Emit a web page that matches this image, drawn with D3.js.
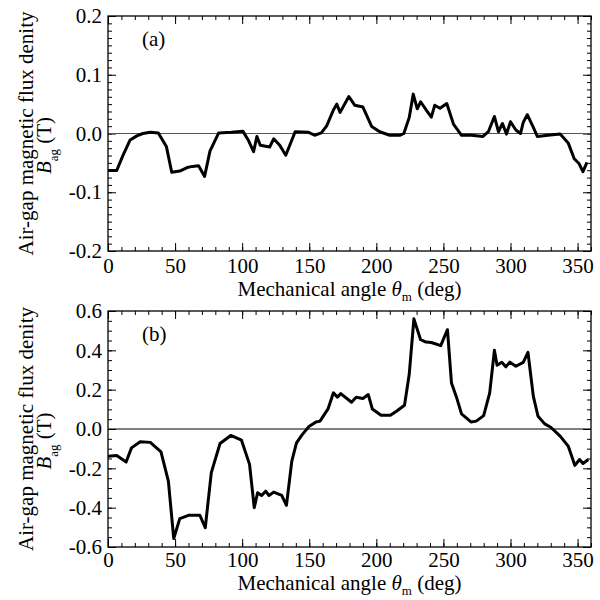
<!DOCTYPE html>
<html>
<head>
<meta charset="utf-8">
<script src="https://cdn.jsdelivr.net/npm/d3@7/dist/d3.min.js"></script>
<style>
  body { margin: 0; background: #fff; }
  text { font-family: "Liberation Serif", "DejaVu Serif", serif; fill: #000; }
</style>
</head>
<body>
<svg id="chart" width="600" height="600"></svg>
<script>
// panel (a) data: angle (deg) and air-gap flux density (T)
var angleA = [0, 6.5, 11, 16.5, 21.5, 26, 31.5, 37.5, 43.5, 47.5, 53.5, 59, 63, 67.5, 72, 76, 82.5, 92, 100.5,
  104.5, 108.5, 111, 113.5, 120.5, 123.5, 128, 132.5, 139.5, 149.5, 154, 159, 163, 168, 170.5, 173, 179.5,
  184, 190, 196.5, 202.5, 210, 217.5, 220.5, 224.5, 227.5, 230.5, 233, 237.5, 241, 243.5, 247.5, 252.5,
  257.5, 263.5, 271, 279.5, 283.5, 288, 291, 294, 297, 300, 304, 307.5, 309.5, 312.5, 316.5, 320, 328,
  337, 343, 347.5, 351, 354, 357];
var fluxA = [-0.063, -0.063, -0.038, -0.011, -0.004, 0.0, 0.002, 0.001, -0.022, -0.066, -0.064, -0.058, -0.056, -0.055, -0.073, -0.030, 0.001, 0.002, 0.004,
  -0.011, -0.031, -0.005, -0.020, -0.023, -0.009, -0.020, -0.037, 0.003, 0.002, -0.003, 0.001, 0.013, 0.040, 0.050, 0.036, 0.063,
  0.048, 0.045, 0.012, 0.003, -0.003, -0.003, 0.0, 0.027, 0.067, 0.042, 0.054, 0.039, 0.028, 0.048, 0.043, 0.051,
  0.016, -0.003, -0.003, -0.005, 0.003, 0.029, 0.003, 0.017, -0.001, 0.020, 0.006, 0.0, 0.019, 0.032, 0.013, -0.005, -0.003,
  -0.001, -0.016, -0.043, -0.051, -0.065, -0.049];

// panel (b) data
var angleB = [0, 6.5, 13.5, 17.5, 24, 31.5, 39.5, 45, 49, 53.5, 60, 68.5, 72.5, 77, 83.5, 91.5, 99.5, 105.5,
  109, 111.5, 114.5, 117.5, 120, 123.5, 129.5, 133, 137, 140.5, 144.5, 149.5, 155, 158, 164, 168, 171, 173.5,
  181.5, 185, 190, 194, 197, 203.5, 210.5, 215, 221, 224.5, 228, 233, 237, 241, 248, 253, 256, 259.5, 263.5,
  270.5, 274.5, 280, 284.5, 288, 290, 293.5, 296.5, 299.5, 304, 309.5, 313, 317, 320.5, 325.5, 330, 337, 343,
  348, 351.5, 354, 358];
var fluxB = [-0.138, -0.135, -0.168, -0.096, -0.065, -0.068, -0.116, -0.265, -0.557, -0.456, -0.439, -0.439, -0.502, -0.222, -0.074, -0.033, -0.057, -0.180,
  -0.400, -0.324, -0.338, -0.316, -0.338, -0.321, -0.338, -0.388, -0.163, -0.070, -0.031, 0.011, 0.036, 0.040, 0.102, 0.184, 0.162, 0.180,
  0.136, 0.161, 0.155, 0.175, 0.102, 0.070, 0.070, 0.090, 0.121, 0.277, 0.560, 0.454, 0.442, 0.440, 0.424, 0.505, 0.234, 0.167, 0.077,
  0.036, 0.040, 0.068, 0.184, 0.400, 0.324, 0.339, 0.316, 0.340, 0.319, 0.339, 0.390, 0.167, 0.065, 0.026, 0.009, -0.036, -0.087,
  -0.185, -0.155, -0.175, -0.155];

var xTicks = [0, 50, 100, 150, 200, 250, 300, 350];
var yTicksA = [-0.2, -0.1, 0.0, 0.1, 0.2];
var yTicksB = [-0.6, -0.4, -0.2, 0.0, 0.2, 0.4, 0.6];

var svg = d3.select("#chart");
var left = 108, right = 591;
var fs = "21px";

// plain hyphen minus like the original, not the unicode minus d3 uses
function fmt(v) { return d3.format(".1f")(v).replace("\u2212", "-"); }

function drawPanel(opt) {
  var x = d3.scaleLinear().domain([0, 360]).range([left, right]);
  var y = d3.scaleLinear().domain(opt.ydom).range([opt.bottom, opt.top]);
  var g = svg.append("g");

  // minor ticks
  var xMinor = d3.range(0, 361, 10);
  var yMinor = d3.range(opt.ydom[0], opt.ydom[1] + 1e-9, opt.yminor);

  g.append("g").attr("transform", "translate(0," + opt.bottom + ")")
    .call(d3.axisBottom(x).tickValues(xMinor).tickSize(-4).tickFormat(""));
  g.append("g").attr("transform", "translate(0," + opt.top + ")")
    .call(d3.axisTop(x).tickValues(xMinor).tickSize(-4).tickFormat(""));
  g.append("g").attr("transform", "translate(" + left + ",0)")
    .call(d3.axisLeft(y).tickValues(yMinor).tickSize(-4).tickFormat(""));
  g.append("g").attr("transform", "translate(" + right + ",0)")
    .call(d3.axisRight(y).tickValues(yMinor).tickSize(-4).tickFormat(""));

  // major ticks
  var xb = g.append("g").attr("transform", "translate(0," + opt.bottom + ")")
    .call(d3.axisBottom(x).tickValues(xTicks).tickSize(-8).tickPadding(opt.tickPad).tickFormat(d3.format("d")));
  g.append("g").attr("transform", "translate(0," + opt.top + ")")
    .call(d3.axisTop(x).tickValues(xTicks).tickSize(-8).tickFormat(""));
  g.append("g").attr("transform", "translate(" + left + ",0)")
    .call(d3.axisLeft(y).tickValues(opt.yticks).tickSize(-8).tickPadding(6).tickFormat(fmt));
  g.append("g").attr("transform", "translate(" + right + ",0)")
    .call(d3.axisRight(y).tickValues(opt.yticks).tickSize(-8).tickFormat(""));

  g.selectAll(".domain").remove();
  g.selectAll(".tick line").attr("stroke", "#000").attr("stroke-width", 1);
  g.selectAll(".tick text").style("font-family", "Liberation Serif").style("font-size", fs).attr("fill", "#000");
  xb.selectAll(".tick text").attr("dy", 0);

  // zero line
  g.append("line").attr("x1", left).attr("x2", right)
    .attr("y1", y(0)).attr("y2", y(0))
    .attr("stroke", opt.zeroColor).attr("stroke-width", 1.2);

  // curve
  var pts = opt.angle.map(function(a, i) { return [a, opt.flux[i]]; });
  g.append("path").datum(pts)
    .attr("fill", "none").attr("stroke", "#000").attr("stroke-width", 3)
    .attr("stroke-linejoin", "round")
    .attr("d", d3.line().x(function(d) { return x(d[0]); }).y(function(d) { return y(d[1]); }));

  // frame
  g.append("rect").attr("x", left).attr("y", opt.top)
    .attr("width", right - left).attr("height", opt.bottom - opt.top)
    .attr("fill", "none").attr("stroke", "#000").attr("stroke-width", 1.3);

  // panel tag
  g.append("text").attr("x", 142).attr("y", opt.top + 30)
    .style("font-size", fs).text(opt.tag);

  // x title
  var xt = g.append("text").attr("x", (left + right) / 2).attr("y", opt.bottom + opt.titlePad)
    .attr("text-anchor", "middle").style("font-size", fs);
  xt.append("tspan").text("Mechanical angle ");
  xt.append("tspan").style("font-style", "italic").text("\u03b8");
  xt.append("tspan").attr("dy", 5).style("font-size", "13px").text("m");
  xt.append("tspan").attr("dy", -5).text(" (deg)");

  // y title
  var cy = (opt.top + opt.bottom) / 2;
  g.append("text").attr("transform", "translate(33," + cy + ") rotate(-90)")
    .attr("text-anchor", "middle").style("font-size", fs)
    .text("Air-gap magnetic flux denity");
  var yt = g.append("text").attr("transform", "translate(51," + (cy + 12) + ") rotate(-90)")
    .attr("text-anchor", "middle").style("font-size", fs);
  yt.append("tspan").style("font-style", "italic").text("B");
  yt.append("tspan").attr("dy", 7).style("font-size", "13px").text("ag");
  yt.append("tspan").attr("dy", -7).text(" (T)");
}

drawPanel({ top: 16, bottom: 251, ydom: [-0.2, 0.2], yticks: yTicksA, yminor: 0.0125,
  tickPad: 22, titlePad: 45,
  angle: angleA, flux: fluxA, tag: "(a)", zeroColor: "#555" });
drawPanel({ top: 311, bottom: 547, ydom: [-0.6, 0.6], yticks: yTicksB, yminor: 0.05,
  tickPad: 20, titlePad: 43,
  angle: angleB, flux: fluxB, tag: "(b)", zeroColor: "#000" });
</script>
</body>
</html>
